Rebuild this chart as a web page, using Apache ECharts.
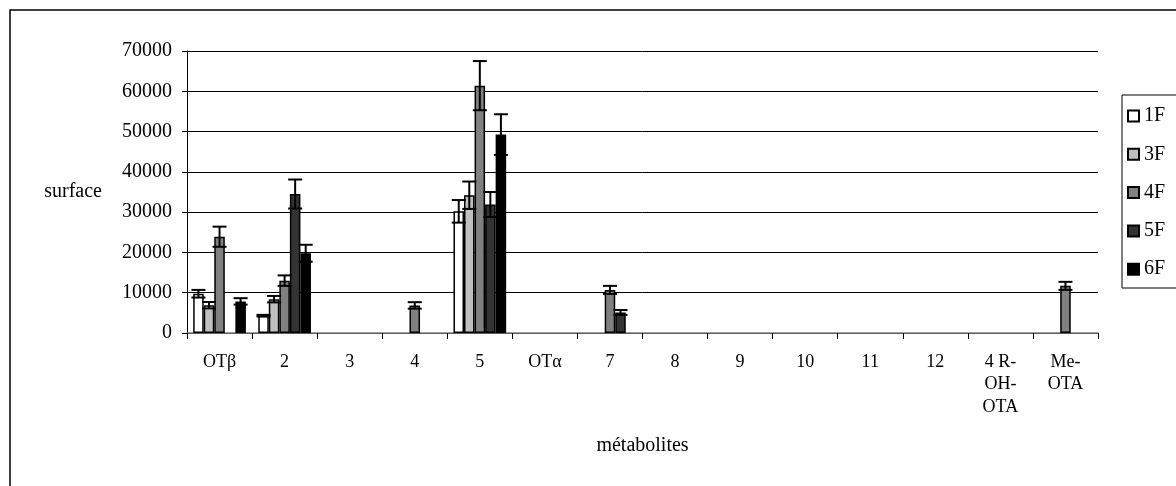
<!DOCTYPE html>
<html>
<head>
<meta charset="utf-8">
<script src="https://cdn.jsdelivr.net/npm/echarts@6/dist/echarts.min.js"></script>
<style>html,body{margin:0;padding:0;background:#fff}#c{width:1176px;height:486px}</style>
</head>
<body>
<div id="c"></div>
<script>
const categories = ['OTβ','2','3','4','5','OTα','7','8','9','10','11','12','4 R-\nOH-\nOTA','Me-\nOTA'];
const seriesNames = ['1F','3F','4F','5F','6F'];
const v1F = [9750, 4300, null, null, 30200, null, null, null, null, null, null, null, null, null];
const v3F = [6900, 8400, null, null, 34200, null, null, null, null, null, null, null, null, null];
const v4F = [23900, 13000, null, 6850, 61400, null, 10700, null, null, null, null, null, null, 11700];
const v5F = [null, 34500, null, null, 31900, null, 5100, null, null, null, null, null, null, null];
const v6F = [7840, 19800, null, null, 49250, null, null, null, null, null, null, null, null, null];
const e1F = [950, 200, null, null, 2800, null, null, null, null, null, null, null, null, null];
const e3F = [800, 800, null, null, 3400, null, null, null, null, null, null, null, null, null];
const e4F = [2500, 1300, null, 800, 6100, null, 1000, null, null, null, null, null, null, 1000];
const e5F = [null, 3600, null, null, 3100, null, 600, null, null, null, null, null, null, null];
const e6F = [800, 2100, null, null, 5050, null, null, null, null, null, null, null, null, null];
const yTicks = [0, 10000, 20000, 30000, 40000, 50000, 60000, 70000];

const values = [v1F, v3F, v4F, v5F, v6F];
const errors = [e1F, e3F, e4F, e5F, e6F];
const colors = ['#ffffff', '#c0c0c0', '#808080', '#333333', '#000000'];
const CAT_GAP = 0.19;
const FONT = '"Liberation Serif", "DejaVu Serif", serif';

const errData = [];
values.forEach((arr, s) => {
  arr.forEach((v, i) => {
    if (v != null && errors[s][i] != null) errData.push([i, v, errors[s][i], s]);
  });
});

const chart = echarts.init(document.getElementById('c'), null, {renderer: 'canvas'});
const barSeries = seriesNames.map((n, s) => ({
  name: n,
  type: 'bar',
  data: values[s],
  barGap: '0%',
  barCategoryGap: (CAT_GAP * 100) + '%',
  itemStyle: {color: colors[s], borderColor: '#000', borderWidth: 1.5},
  emphasis: {disabled: true},
  z: 2
}));

const option = {
  animation: false,
  backgroundColor: '#fff',
  textStyle: {fontFamily: FONT},
  grid: {left: 187, right: 78, top: 51, bottom: 153, containLabel: false},
  legend: {
    data: seriesNames,
    orient: 'vertical',
    left: 1127,
    top: 106,
    padding: 0,
    itemWidth: 11,
    itemHeight: 11,
    itemGap: 18.3,
    icon: 'rect',
    textStyle: {fontFamily: FONT, fontSize: 20, color: '#000', lineHeight: 20},
    selectedMode: false
  },
  xAxis: {
    type: 'category',
    data: categories,
    name: 'métabolites',
    nameLocation: 'middle',
    nameGap: 113,
    nameTextStyle: {fontFamily: FONT, fontSize: 20, color: '#000', verticalAlign: 'middle'},
    axisLine: {lineStyle: {color: '#808080', width: 1.5}},
    axisTick: {show: true, length: 6, lineStyle: {color: '#000'}},
    axisLabel: {fontFamily: FONT, fontSize: 18, color: '#000', margin: 18, lineHeight: 22.5, interval: 0}
  },
  yAxis: {
    type: 'value',
    min: 0,
    max: 70000,
    interval: 10000,
    name: 'surface',
    nameLocation: 'middle',
    nameRotate: 0,
    nameGap: 85,
    nameTextStyle: {fontFamily: FONT, fontSize: 20, color: '#000', align: 'right', verticalAlign: 'middle'},
    axisLine: {show: true, lineStyle: {color: '#000', width: 1}},
    axisTick: {show: true, length: 5, lineStyle: {color: '#000'}},
    axisLabel: {fontFamily: FONT, fontSize: 20, color: '#000', margin: 15,
      formatter: v => yTicks.includes(v) ? String(v) : ''},
    splitLine: {show: true, lineStyle: {color: '#000', width: 1}}
  },
  graphic: [
    {type: 'rect', shape: {x: 10, y: 10, width: 1300, height: 600}, style: {fill: 'none', stroke: '#000', lineWidth: 1.5}, silent: true},
    {type: 'rect', shape: {x: 1122, y: 95, width: 200, height: 193}, style: {fill: 'none', stroke: '#000', lineWidth: 1}, silent: true}
  ],
  series: barSeries.concat([{
    type: 'custom',
    name: 'err',
    data: errData,
    z: 5,
    encode: {x: 0, y: 1},
    renderItem: function (params, api) {
      const cat = api.value(0), v = api.value(1), e = api.value(2), s = api.value(3);
      const band = api.size([1, 0])[0];
      const bw = band * (1 - CAT_GAP) / 5;
      const c = api.coord([cat, v]);
      const x = c[0] + (s - 2) * bw;
      const yHi = api.coord([cat, v + e])[1];
      const yLo = api.coord([cat, v - e])[1];
      const hw = 7;
      const st = {stroke: '#000', lineWidth: 2};
      return {type: 'group', children: [
        {type: 'line', shape: {x1: x, y1: yHi, x2: x, y2: yLo}, style: st},
        {type: 'line', shape: {x1: x - hw, y1: yHi, x2: x + hw, y2: yHi}, style: st},
        {type: 'line', shape: {x1: x - hw, y1: yLo, x2: x + hw, y2: yLo}, style: st}
      ]};
    }
  }])
};
chart.setOption(option);
</script>
</body>
</html>
